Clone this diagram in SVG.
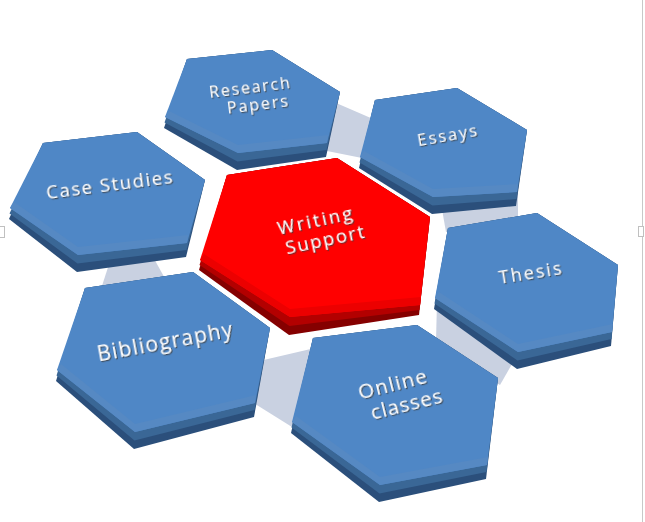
<svg xmlns="http://www.w3.org/2000/svg" width="645" height="522" viewBox="0 0 645 522">
<defs>
<style>
.conn{fill:#C9D1E1}
.ext{fill:#2B4F7B}
.ext2{fill:#3A6796}
.face{fill:#4F87C6}
.band{fill:#5689C3}
.rext{fill:#850000}
.rext2{fill:#B30000}
.rface{fill:#FF0000}
.rband{fill:#EC0000}
.lbl{font-family:"Open Sans","Liberation Sans",sans-serif;fill:#FFFFFF;text-anchor:middle;filter:url(#sh)}
</style>
<filter id="sh" x="-20%" y="-40%" width="140%" height="180%">
<feDropShadow dx="1" dy="1.2" stdDeviation="0.6" flood-color="#3A3A3A" flood-opacity="0.85"/>
</filter>
</defs>
<rect width="645" height="522" fill="#FFFFFF"/>
<line x1="642.5" y1="0" x2="642.5" y2="522" stroke="#C8C8C8" stroke-width="1"/>
<rect x="638.5" y="226.5" width="5" height="10" fill="#FFFFFF" stroke="#C0C0C0"/>
<rect x="-0.5" y="226.5" width="5" height="11" fill="#FFFFFF" stroke="#C0C0C0"/>

<g id="connectors">
<polygon class="conn" points="320,96 380,122 372,160 322,150"/>
<polygon class="conn" points="440,198 518,190 518,225 446,232"/>
<polygon class="conn" points="437,300 520,350 500,385 436,342"/>
<polygon class="conn" points="255,362 315,348 300,432 252,402"/>
<polygon class="conn" points="112,255 152,255 168,284 100,292"/>
</g>

<g id="research-papers">
<polygon class="ext" points="187,59 272,50 340,92 326,157 237,170 164,128"/>
<polygon class="ext2" points="187,59 272,50 340,92 326.5,150 237.5,161.5 164.5,122.5"/>
<polygon class="face" points="187,59 272,50 340,92 327,143 238,153 165,117"/>
<polygon class="band" points="165,117 238,153 327,143 328,135 238,145 169,111"/>
<text class="lbl" font-size="16" transform="translate(250,93) rotate(-7)" textLength="81" lengthAdjust="spacing">Research</text>
<text class="lbl" font-size="16" transform="translate(258,110) rotate(-7)" textLength="61" lengthAdjust="spacing">Papers</text>
</g>

<g id="essays">
<polygon class="ext" points="375,100 457,88 527,130 516,206 432,214 359,168"/>
<polygon class="ext2" points="375,100 457,88 527,130 516.5,199 432.5,205.5 359.5,162.5"/>
<polygon class="face" points="375,100 457,88 527,130 517,192 433,197 360,157"/>
<polygon class="band" points="360,157 433,197 517,192 518,184 433,189 364,151"/>
<text class="lbl" font-size="16.5" transform="translate(448,141) rotate(-10)" textLength="60" lengthAdjust="spacing">Essays</text>
</g>

<g id="case-studies">
<polygon class="ext" points="43,143 137,132 205,180 186,257 77,272 9,219"/>
<polygon class="ext2" points="43,143 137,132 205,180 186.5,250 77.5,263.5 9.5,213.5"/>
<polygon class="face" points="43,143 137,132 205,180 187,243 78,255 10,208"/>
<polygon class="band" points="10,208 78,255 187,243 188,235 78,247 14,202"/>
<text class="lbl" font-size="18.5" transform="translate(110,191) rotate(-7.3)" textLength="127" lengthAdjust="spacing">Case Studies</text>
</g>

<g id="thesis">
<polygon class="ext" points="448,228 537,213 618,265 611,346 517,369 434,309"/>
<polygon class="ext2" points="448,228 537,213 618,265 611.5,339 517.5,360.5 434.5,303.5"/>
<polygon class="face" points="448,228 537,213 618,265 612,332 518,352 435,298"/>
<polygon class="band" points="435,298 518,352 612,332 612.7,324 518,344 439,292"/>
<text class="lbl" font-size="18" transform="translate(531,279) rotate(-9)" textLength="63" lengthAdjust="spacing">Thesis</text>
</g>

<g id="bibliography">
<polygon class="ext" points="85,288 193,272 270,328 254,417 134,449 56,381"/>
<polygon class="ext2" points="85,288 193,272 270,328 254.5,410 134.5,440.5 56.5,375.5"/>
<polygon class="face" points="85,288 193,272 270,328 255,403 135,432 57,370"/>
<polygon class="band" points="57,370 135,432 255,403 256,395 135,424 61,364"/>
<text class="lbl" font-size="21" transform="translate(166,349) rotate(-10.5)" textLength="137" lengthAdjust="spacing">Bibliography</text>
</g>

<g id="online-classes">
<polygon class="ext" points="313,338 417,325 498,378 486,479 379,502 291,433"/>
<polygon class="ext2" points="313,338 417,325 498,378 486.5,472 379.5,493.5 291.5,427.5"/>
<polygon class="face" points="313,338 417,325 498,378 487,465 380,485 292,422"/>
<polygon class="band" points="292,422 380,485 487,465 488,457 380,477 296,416"/>
<text class="lbl" font-size="20.5" transform="translate(394,391) rotate(-14)" textLength="70" lengthAdjust="spacing">Online</text>
<text class="lbl" font-size="20.5" transform="translate(408,411) rotate(-14)" textLength="73" lengthAdjust="spacing">classes</text>
</g>

<g id="writing-support">
<polygon class="rext" points="227,175 337,158 430,217 419,315 289,335 199,270"/>
<polygon class="rext2" points="227,175 337,158 430,217 419.5,310 289.5,326 199.5,265"/>
<polygon class="rface" points="227,175 337,158 430,217 420,305 290,317 200,260"/>
<polygon class="rband" points="200,260 290,317 420,305 421,297 290,309 204,254"/>
<text class="lbl" font-size="18.5" transform="translate(316,227) rotate(-12)" textLength="76" lengthAdjust="spacing">Writing</text>
<text class="lbl" font-size="18.5" transform="translate(326,246) rotate(-12)" textLength="80" lengthAdjust="spacing">Support</text>
</g>
</svg>
